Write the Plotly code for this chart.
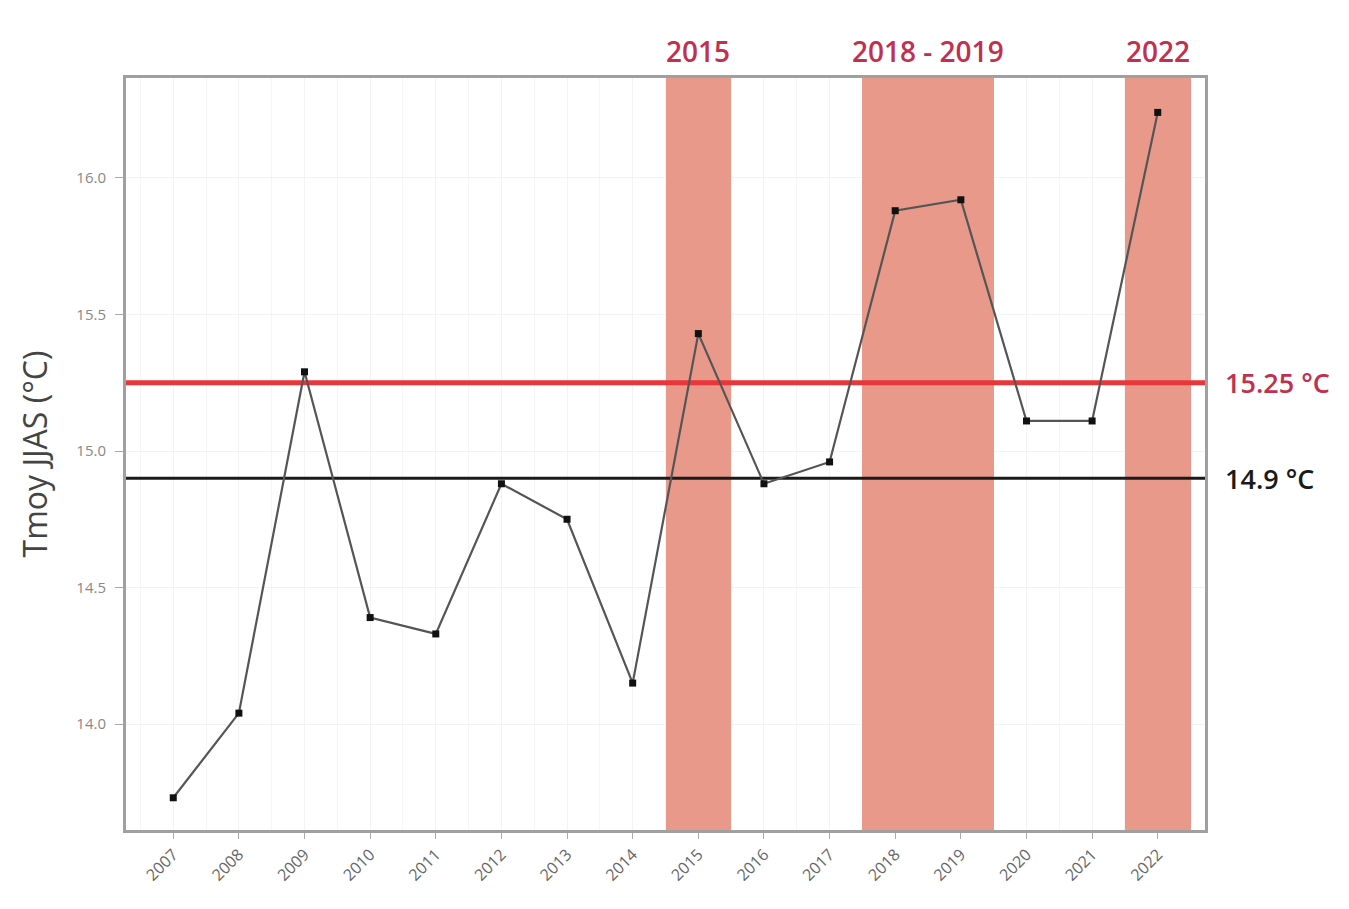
import plotly.graph_objects as go

# Mean June-September temperature by year
years = [2007, 2008, 2009, 2010, 2011, 2012, 2013, 2014,
         2015, 2016, 2017, 2018, 2019, 2020, 2021, 2022]
tmoy = [13.73, 14.04, 15.29, 14.39, 14.33, 14.88, 14.75, 14.15,
        15.43, 14.88, 14.96, 15.88, 15.92, 15.11, 15.11, 16.24]

# Reference levels
ref_high = 15.25
ref_low = 14.9

# Highlighted heat periods: (first year, last year, label)
periods = [(2015, 2015, "2015"), (2018, 2019, "2018 - 2019"), (2022, 2022, "2022")]

y_ticks = [14.0, 14.5, 15.0, 15.5, 16.0]

x_min, x_max = 2006.28, 2022.72
y_min, y_max = 13.612, 16.366

fig = go.Figure()

# Shaded bands drawn as full-height bars so they sit above the grid
fig.add_trace(go.Bar(
    x=[(s + e) / 2 for s, e, _ in periods],
    width=[e - s + 1 for s, e, _ in periods],
    base=[y_min] * len(periods),
    y=[y_max - y_min] * len(periods),
    marker=dict(color="#E8998A", line=dict(width=0)),
    hoverinfo="skip", showlegend=False,
))

# Reference lines across the full x range
fig.add_trace(go.Scatter(x=[x_min, x_max], y=[ref_high, ref_high], mode="lines",
                         line=dict(color="#E8363A", width=5),
                         hoverinfo="skip", showlegend=False))
fig.add_trace(go.Scatter(x=[x_min, x_max], y=[ref_low, ref_low], mode="lines",
                         line=dict(color="#1a1a1a", width=3),
                         hoverinfo="skip", showlegend=False))

fig.add_trace(go.Scatter(
    x=years, y=tmoy, mode="lines+markers",
    line=dict(color="#555555", width=2.2),
    marker=dict(symbol="square", size=7, color="#111111"),
    showlegend=False,
))

annotations = []
for start, end, label in periods:
    annotations.append(dict(x=(start + end) / 2, xref="x", y=1.0, yref="paper",
                            yanchor="bottom", yshift=6, showarrow=False, text=label,
                            font=dict(family="Open Sans", size=28, weight=600,
                                      color="#C2304F")))

annotations.append(dict(x=1.0, xref="paper", y=ref_high, yref="y", xanchor="left",
                        xshift=18, showarrow=False, text=f"{ref_high} °C",
                        font=dict(family="Open Sans", size=27, weight=600,
                                  color="#C2304F")))
annotations.append(dict(x=1.0, xref="paper", y=ref_low, yref="y", xanchor="left",
                        xshift=18, showarrow=False, text=f"{ref_low} °C",
                        font=dict(family="Open Sans", size=27, weight=600,
                                  color="#1a1a1a")))

fig.update_layout(
    width=1349, height=909,
    margin=dict(l=126, r=144, t=78, b=79),
    paper_bgcolor="white", plot_bgcolor="white",
    annotations=annotations, bargap=0,
    font=dict(family="Open Sans", color="#888888"),
)

fig.update_xaxes(
    range=[x_min, x_max], tickmode="array", tickvals=years,
    ticktext=[str(y) for y in years], tickangle=-45,
    tickfont=dict(size=16, color="#666666"),
    ticks="outside", ticklen=6, tickcolor="#aaaaaa",
    showgrid=True, gridcolor="#f3f3f3", gridwidth=1,
    minor=dict(showgrid=True, gridcolor="#f6f6f6", dtick=0.5, tick0=2006.5),
    showline=True, linecolor="#a0a0a0", linewidth=3, mirror=True,
    zeroline=False,
)

fig.update_yaxes(
    range=[y_min, y_max], tickmode="array", tickvals=y_ticks,
    ticktext=[f"{v:.1f}" for v in y_ticks],
    tickfont=dict(size=15, color="#888888"),
    ticks="outside", ticklen=8, tickcolor="#aaaaaa", ticklabelstandoff=6,
    showgrid=True, gridcolor="#f3f3f3", gridwidth=1,
    showline=True, linecolor="#a0a0a0", linewidth=3, mirror=True,
    zeroline=False,
    title=dict(text="Tmoy JJAS (°C)", standoff=20,
               font=dict(family="Open Sans", size=32, color="#444444")),
)

fig.write_html("out.html")
